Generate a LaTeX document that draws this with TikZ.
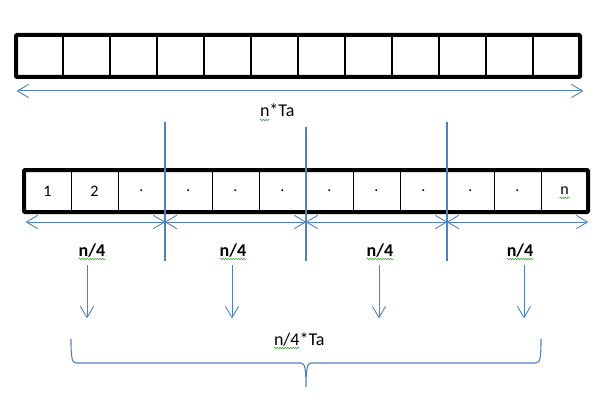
\documentclass[tikz,border=0pt]{standalone}
\usepackage{fontspec}
\setmainfont{Carlito}
\usetikzlibrary{arrows.meta,positioning,decorations.pathmorphing}
\definecolor{lineblue}{RGB}{79,129,189}
\definecolor{squig}{RGB}{70,170,60}
\tikzset{
	cellbox/.style={draw,line width=2.6pt,minimum width=47pt,minimum height=42pt,inner sep=0pt,outer sep=0pt},
	slotbox/.style={draw,line width=1pt,minimum width=47pt,minimum height=42pt,inner sep=0pt,outer sep=0pt,font=\fontsize{16}{18}\selectfont},
	frame/.style={line width=4pt,rounded corners=1pt},
	barb/.tip={Straight Barb[length=11pt,width=13pt,line width=0.9pt,round]},
	spanarrow/.style={lineblue,line width=1pt,barb-barb},
	droparrow/.style={lineblue,line width=1pt,-barb},
	divline/.style={lineblue,line width=1.1pt},
	lbl/.style={font=\fontsize{18}{20}\selectfont,inner sep=0pt,outer sep=0pt},
	quarterlbl/.style={font=\fontsize{18}{20}\selectfont\bfseries,inner sep=0pt,outer sep=0pt},
	squiggle/.style={squig,line width=0.6pt,decorate,decoration={snake,amplitude=0.8pt,segment length=2.6pt}}
}
\begin{document}
\begin{tikzpicture}[x=1pt,y=-1pt]
	\useasboundingbox (0,0) rectangle (612,406);
	% whole array
	\foreach \i in {1,...,12}
		\node[cellbox] (t\i) at ({16+47*(\i-0.5)},56) {};
	\draw[frame] (t1.north west) rectangle (t12.south east);
	\coordinate (tl) at (17,91);
	\coordinate (tr) at (583,91);
	\draw[spanarrow] (tl) -- (tr);
	\node[lbl,anchor=base west] (tot) at (260,117) {n};
	\node[lbl,anchor=base west] (totb) at (tot.base east) {*Ta};
	\draw[squiggle] ([yshift=-3pt]tot.base west) -- ([yshift=-3pt]tot.base east);
	%
	% split array
	\foreach \lab [count=\i] in {1,2,.,.,.,.,.,.,.,.,.,n}
		\node[slotbox] (s\i) at ({24+47*(\i-0.5)},191) {\lab};
	\draw[frame] (s1.north west) rectangle (s12.south east);
	\draw[squiggle] ([xshift=-5pt,yshift=-3pt]s12.base) -- ([xshift=5pt,yshift=-3pt]s12.base);
	\draw[divline] ([yshift=48pt]s3.north east) -- ([yshift=-49pt]s3.south east);
	\draw[divline] ([yshift=43pt]s6.north east) -- ([yshift=-49pt]s6.south east);
	\draw[divline] ([yshift=48pt]s9.north east) -- ([yshift=-49pt]s9.south east);
	\draw[spanarrow] ([xshift=2pt,yshift=-10pt]s1.south west) -- ([yshift=-10pt]s3.south east);
	\draw[spanarrow] ([yshift=-10pt]s3.south east) -- ([yshift=-10pt]s6.south east);
	\draw[spanarrow] ([yshift=-10pt]s6.south east) -- ([yshift=-10pt]s9.south east);
	\draw[spanarrow] ([yshift=-10pt]s9.south east) -- ([yshift=-10pt]s12.south east);
	%
	% quarters
	\foreach \x [count=\i] in {92,233,380,520} {
		\node[quarterlbl,anchor=base] (h\i) at (\x,256) {n/4};
		\draw[squiggle] ([yshift=-3pt]h\i.base west) -- ([yshift=-3pt]h\i.base east);
	}
	\foreach \x [count=\i] in {87,232,379,524} {
		\coordinate (a\i) at (\x,265);
		\coordinate (b\i) at (\x,318);
		\draw[droparrow] (a\i) -- (b\i);
	}
	%
	% brace
	\coordinate (bl) at (71,339);
	\coordinate (br) at (541,339);
	\coordinate (bt) at (306,387);
	\draw[divline] (bl) .. controls (71,358) and (72,363) .. (76,363) -- (301,363)
		.. controls (305,363) and (306,370) .. (bt)
		.. controls (306,370) and (307,363) .. (311,363) -- (536,363)
		.. controls (540,363) and (541,358) .. (br);
	\node[lbl,anchor=base west] (part) at (274,345) {n/4};
	\node[lbl,anchor=base west] (partb) at (part.base east) {*Ta};
	\draw[squiggle] ([yshift=-3pt]part.base west) -- ([yshift=-3pt]part.base east);
\end{tikzpicture}
\end{document}
